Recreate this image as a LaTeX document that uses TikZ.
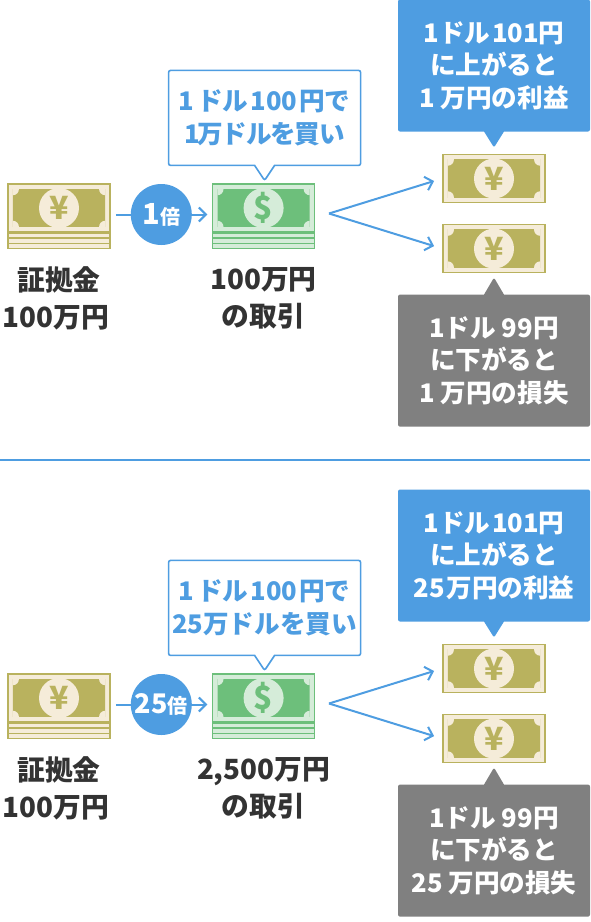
\documentclass[tikz,border=0pt]{standalone}
\usepackage{fontspec}
\setmainfont{Noto Sans CJK JP}
\usetikzlibrary{positioning,arrows.meta,calc,shapes.callouts}
\definecolor{bluec}{HTML}{4E9DE1}
\definecolor{grayc}{HTML}{808080}
\definecolor{inkc}{HTML}{333333}
\definecolor{yendark}{HTML}{B9B25E}
\definecolor{yenlight}{HTML}{F5ECD9}
\definecolor{greendark}{HTML}{6DBF7B}
\definecolor{greenlight}{HTML}{D5ECD9}
\tikzset{
  note/.style={draw, line width=1.6pt, minimum width=102pt, minimum height=48pt, inner sep=0pt},
  yennote/.style={note, draw=yendark, fill=yenlight},
  greennote/.style={note, draw=greendark, fill=greenlight},
  seal/.style={circle, minimum size=40pt, inner sep=0pt, font=\bfseries\fontsize{32}{32}\selectfont},
  bubble/.style={rectangle callout, rounded corners=2pt, callout pointer width=20pt, minimum width=192pt,
    inner sep=0pt, align=center, font=\bfseries\fontsize{25.6}{32.5}\selectfont},
  gainbox/.style={bubble, fill=bluec, text=white, minimum height=132pt, callout relative pointer={(0pt,-16pt)},
    execute at begin node=\rule{0pt}{31.7pt}},
  lossbox/.style={bubble, fill=grayc, text=white, minimum height=132pt, callout relative pointer={(0pt,17pt)},
    execute at begin node=\rule{0pt}{33.7pt}},
  buybox/.style={bubble, draw=bluec, line width=1.6pt, fill=white, text=bluec, minimum height=95pt,
    callout relative pointer={(0pt,-15pt)}},
  caption/.style={text=inkc, align=center, inner sep=0pt, font=\bfseries\fontsize{27.8}{37}\selectfont},
  rate/.style={circle, fill=bluec, text=white, minimum size=61pt, inner sep=0pt, font=\bfseries\fontsize{27}{27}\selectfont},
  flow/.style={-{Straight Barb[length=7pt,width=14pt]}, line width=2pt, draw=bluec},
  sepline/.style={draw=bluec, line width=2pt},
}
\newcommand{\smallbai}{{\fontsize{20}{20}\selectfont 倍}}
% inside of a bill
\newcommand{\billart}[4]{
  \begin{scope}
    \clip ([xshift=5.7pt,yshift=-6pt]#1.north west) rectangle ([xshift=-5.7pt,yshift=6pt]#1.south east);
    \fill[#2] (#1.north west) rectangle (#1.south east);
    \fill[#3] ([xshift=5.7pt,yshift=-6pt]#1.north west) circle (6pt);
    \fill[#3] ([xshift=-5.7pt,yshift=-6pt]#1.north east) circle (6pt);
    \fill[#3] ([xshift=5.7pt,yshift=6pt]#1.south west) circle (6pt);
    \fill[#3] ([xshift=-5.7pt,yshift=6pt]#1.south east) circle (6pt);
  \end{scope}
  \node[seal, fill=#3, text=#2] (#1seal) at (#1) {#4};
}
% bundle lines under a bill
\newcommand{\billstack}[3]{
  \draw[#2, line width=1.4pt, fill=#3] ([xshift=.7pt]#1.south west) rectangle ([xshift=-.7pt,yshift=-15.6pt]#1.south east);
  \draw[#2, line width=1.4pt] ([yshift=-5.3pt]#1.south west) -- ([yshift=-5.3pt]#1.south east);
  \draw[#2, line width=1.4pt] ([yshift=-10.5pt]#1.south west) -- ([yshift=-10.5pt]#1.south east);
}
\begin{document}
\begin{tikzpicture}[x=1pt, y=-1pt]
  \useasboundingbox (0,0) rectangle (590,922);
  % upper case
  \node[yennote] (yen1) at (59,208) {};
  \node[greennote, right=101pt of yen1] (green1) {};
  \node[yennote] (up1) at (494,178.5) {};
  \node[yennote, below=20.5pt of up1] (down1) {};
  \billart{yen1}{yendark}{yenlight}{¥}
  \billstack{yen1}{yendark}{yenlight}
  \billart{green1}{greendark}{greenlight}{\$}
  \billstack{green1}{greendark}{greenlight}
  \billart{up1}{yendark}{yenlight}{¥}
  \billart{down1}{yendark}{yenlight}{¥}
  \node[buybox, above=17pt of green1, xshift=1pt] (buy1) {1\kern3pt ドル\kern2pt 100\kern2pt 円で\\1\kern-2pt 万\kern-2pt ドル\kern-2pt を\kern-2pt 買い};
  \node[gainbox, above=22pt of up1] (gain1) {1ドル\kern2pt 101円\\に上がると\\1 万円の利益};
  \node[lossbox, below=21pt of down1] (loss1) {1ドル 99円\\に下がると\\1 万円の損失};
  \node[caption, below=18pt of yen1, yshift=-16pt, xshift=-3pt] (cap1) {\kern6pt 証拠金\\100万円};
  \node[caption, below=18pt of green1, yshift=-16pt] (deal1) {100万円\\の取引};
  \draw[flow, shorten <=5pt, shorten >=4.5pt] ([yshift=-6.5pt]yen1.east) -- ([yshift=-6.5pt]green1.west);
  \node[rate] (rate1) at ($(yen1)!0.5!(green1)+(0,6.5)$) {{\fontsize{29}{29}\selectfont 1}\smallbai};
  \coordinate (fork1) at (329,213.5);
  \draw[flow, shorten >=8.5pt] (fork1) -- (up1.west);
  \draw[flow, shorten >=8.5pt] (fork1) -- (down1.west);
  % divider
  \coordinate (sepl) at (0,460);
  \coordinate (sepr) at (590,460);
  \draw[sepline] (sepl) -- (sepr);
  % lower case
  \node[yennote] (yen2) at (59,698) {};
  \node[greennote, right=101pt of yen2] (green2) {};
  \node[yennote] (up2) at (494,668.5) {};
  \node[yennote, below=20.5pt of up2] (down2) {};
  \billart{yen2}{yendark}{yenlight}{¥}
  \billstack{yen2}{yendark}{yenlight}
  \billart{green2}{greendark}{greenlight}{\$}
  \billstack{green2}{greendark}{greenlight}
  \billart{up2}{yendark}{yenlight}{¥}
  \billart{down2}{yendark}{yenlight}{¥}
  \node[buybox, above=17pt of green2, xshift=1pt] (buy2) {1\kern3pt ドル\kern2pt 100\kern2pt 円で\\25万ドルを買い};
  \node[gainbox, above=22pt of up2] (gain2) {1ドル\kern2pt 101円\\に上がると\\25\kern2pt 万円の利益};
  \node[lossbox, below=21pt of down2] (loss2) {1ドル 99円\\に下がると\\25 万円の損失};
  \node[caption, below=18pt of yen2, yshift=-16pt, xshift=-3pt] (cap2) {\kern6pt 証拠金\\100万円};
  \node[caption, below=18pt of green2, yshift=-16pt] (deal2) {2,500万円\\の取引};
  \draw[flow, shorten <=5pt, shorten >=4.5pt] ([yshift=-6.5pt]yen2.east) -- ([yshift=-6.5pt]green2.west);
  \node[rate] (rate2) at ($(yen2)!0.5!(green2)+(0,6.5)$) {25\smallbai};
  \coordinate (fork2) at (329,703.5);
  \draw[flow, shorten >=8.5pt] (fork2) -- (up2.west);
  \draw[flow, shorten >=8.5pt] (fork2) -- (down2.west);
\end{tikzpicture}
\end{document}
